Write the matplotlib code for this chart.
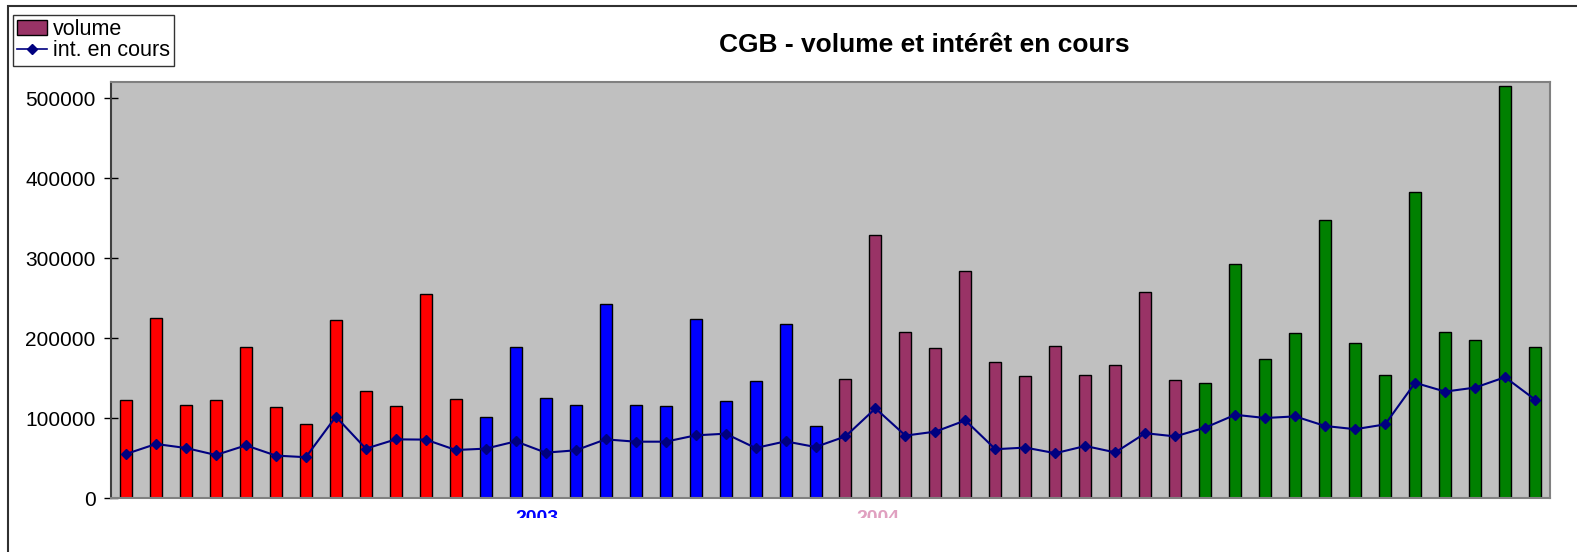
import matplotlib.pyplot as plt
import numpy as np
from matplotlib.patches import Rectangle, Patch
from matplotlib.lines import Line2D

volume = [122000, 225000, 116000, 123000, 189000, 114000, 93000, 222000, 134000, 115000, 255000, 124000,
          101500, 189000, 125400, 115800, 243000, 116200, 115400, 224000, 120800, 146000, 218000, 89600,
          149000, 329000, 207000, 187000, 284000, 170000, 152000, 190000, 154000, 166000, 257000, 148000,
          144000, 292000, 174000, 206000, 348000, 194000, 154000, 382000, 207000, 197000, 515000, 189000]
open_int = [55000, 67500, 62500, 53750, 65800, 53000, 51000, 101700, 61700, 73300, 73000, 60000,
            61700, 70800, 56700, 59600, 73300, 70400, 70400, 78300, 80400, 62500, 70800, 63750,
            77000, 112000, 78000, 83000, 97000, 61000, 63000, 56000, 65000, 57000, 81000, 77000,
            88000, 104000, 100000, 102000, 90000, 86000, 92000, 144000, 133000, 138000, 151000, 123000]
group_colors = ['#FF0000', '#0000FF', '#993366', '#008000']
year_labels = ['2003', '2004']

W, H = 1577, 552
fig = plt.figure(figsize=(W / 100, H / 100), dpi=100)
ax = fig.add_axes([111 / W, 1 - 498 / H, (1550 - 111) / W, (498 - 82) / H])
ax.set_facecolor('#C0C0C0')

x = np.arange(len(volume))
colors = [group_colors[i // 12] for i in x]
ax.bar(x, volume, width=0.4, color=colors, edgecolor='black', linewidth=1, zorder=2)
ax.plot(x, open_int, color='#000080', linewidth=1.5, marker='D', markersize=5, zorder=3)

ax.set_xlim(-0.5, len(volume) - 0.5)
ax.set_ylim(0, 520000)
ax.set_yticks(np.arange(0, 500001, 100000))
ax.set_xticks([])
ax.tick_params(axis='y', direction='inout', length=10, width=1, labelsize=15, pad=6)
for t in ax.get_yticklabels():
    t.set_family('Liberation Sans')
for s in ['top', 'right', 'bottom']:
    ax.spines[s].set_color('#808080')
    ax.spines[s].set_linewidth(1.5)
ax.spines['left'].set_color('#404040')
ax.spines['left'].set_linewidth(1.5)

# outer chart border
fig.patches.append(Rectangle((8 / W, -0.1), 1.2, 1 - 6 / H + 0.1, transform=fig.transFigure,
                             fill=False, edgecolor='#303030', linewidth=1.5))

fig.text(924 / W, 1 - 45 / H, 'CGB - volume et intérêt en cours', ha='center', va='center',
         fontsize=19, fontweight='bold', family='Liberation Sans')

# year labels cut off by the chart frame
yr_colors = ['#0000FF', '#E0A0C0']
yr_x = [537, 878]
for lab, c, xp in zip(year_labels, yr_colors, yr_x):
    t = fig.text(xp / W, 1 - 510 / H, lab, ha='center', va='top', fontsize=14, fontweight='bold',
                 color=c, family='Liberation Sans')
    r = Rectangle((0, 1 - 518 / H), 1, 10 / H, transform=fig.transFigure)
    t.set_clip_path(r)

handles = [Patch(facecolor='#993366', edgecolor='black', linewidth=1),
           Line2D([0], [0], color='#000080', marker='D', markersize=5, linewidth=1.2)]
leg = fig.legend(handles, ['volume', 'int. en cours'], loc='upper left',
                 bbox_to_anchor=(13 / W, 1 - 15 / H), frameon=True, fancybox=False,
                 edgecolor='black', handlelength=1.4, handletextpad=0.25,
                 borderpad=0.2, labelspacing=0.0, borderaxespad=0,
                 prop={'family': 'Liberation Sans', 'size': 15.5})
leg.get_frame().set_linewidth(1)

fig.savefig('out.png', dpi=100)
